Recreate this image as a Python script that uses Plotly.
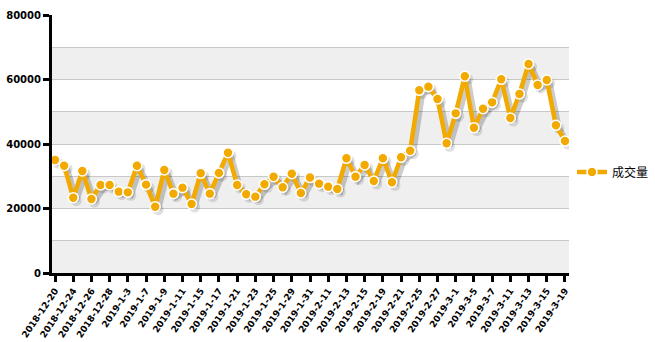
import plotly.graph_objects as go

dates = [
    "2018-12-20", "2018-12-21", "2018-12-24", "2018-12-25", "2018-12-26", "2018-12-27", "2018-12-28",
    "2019-1-2", "2019-1-3", "2019-1-4", "2019-1-7", "2019-1-8", "2019-1-9", "2019-1-10", "2019-1-11",
    "2019-1-14", "2019-1-15", "2019-1-16", "2019-1-17", "2019-1-18", "2019-1-21", "2019-1-22", "2019-1-23",
    "2019-1-24", "2019-1-25", "2019-1-28", "2019-1-29", "2019-1-30", "2019-1-31", "2019-2-1",
    "2019-2-11", "2019-2-12", "2019-2-13", "2019-2-14", "2019-2-15", "2019-2-18", "2019-2-19",
    "2019-2-20", "2019-2-21", "2019-2-22", "2019-2-25", "2019-2-26", "2019-2-27", "2019-2-28",
    "2019-3-1", "2019-3-4", "2019-3-5", "2019-3-6", "2019-3-7", "2019-3-8", "2019-3-11", "2019-3-12",
    "2019-3-13", "2019-3-14", "2019-3-15", "2019-3-18", "2019-3-19",
]
volume = [
    35040, 33270, 23350, 31630, 22950, 27290, 27290, 25220, 25010, 33270,
    27400, 20560, 31940, 24600, 26460, 21400, 30910, 24600, 31010, 37310,
    27290, 24400, 23670, 27500, 29860, 26570, 30790, 24800, 29600, 27700,
    26770, 26050, 35560, 29870, 33490, 28530, 35560, 28120, 35870, 37930,
    56650, 57780, 53950, 40210, 49510, 60990, 45060, 50950, 52920, 60060,
    48060, 55500, 64810, 58300, 59840, 45800, 40930,
]
series_name = "成交量"
y_ticks = [0, 20000, 40000, 60000, 80000]
y_tick_text = ["0", "20000", "40000", "60000", "80000"]
tick_dates = dates[::2]

ORANGE = "#F2A900"
Y_MAX = 80000
BAND = 10000

# layout geometry
W, H = 655, 342
ML, MR, MT, MB = 52, 86, 15, 69
plot_w = W - ML - MR
plot_h = H - MT - MB
x_range = [-0.33, len(dates) - 1 + 0.44]
px_per_cat = plot_w / (x_range[1] - x_range[0])
px_per_val = plot_h / Y_MAX
shadow_px = 3

fig = go.Figure()

# shadow trace on offset overlay axes (x2/y2)
fig.add_trace(go.Scatter(
    x=dates, y=volume, mode="lines+markers", xaxis="x2", yaxis="y2",
    line=dict(color="rgba(0,0,0,0.2)", width=6),
    marker=dict(size=11, color="rgba(0,0,0,0.12)", line=dict(width=0)),
    showlegend=False, hoverinfo="skip",
))

# main trace on unshifted overlay axes (x3/y3), drawn above the shadow
fig.add_trace(go.Scatter(
    x=dates, y=volume, mode="lines+markers", name=series_name, xaxis="x3", yaxis="y3",
    line=dict(color=ORANGE, width=4.5),
    marker=dict(size=10, color=ORANGE, line=dict(color="white", width=1.6)),
))

# alternating bands
shapes = []
for lo in range(0, Y_MAX, 2 * BAND):
    shapes.append(dict(type="rect", xref="paper", yref="y", x0=0, x1=1, y0=lo, y1=lo + BAND,
                       fillcolor="#EFEFEF", line=dict(width=0), layer="below"))

cat_axis = dict(type="category", categoryorder="array", categoryarray=dates)

fig.update_layout(
    width=W, height=H,
    margin=dict(l=ML, r=MR, t=MT, b=MB, autoexpand=False),
    paper_bgcolor="white", plot_bgcolor="white",
    shapes=shapes,
    xaxis=dict(
        **cat_axis, range=x_range,
        tickvals=tick_dates, ticktext=tick_dates, tickangle=-56,
        tickfont=dict(family="DejaVu Sans", size=9, color="black", weight="bold"),
        showgrid=False, showline=True, linecolor="black", linewidth=3,
        ticks="outside", ticklen=6, tickwidth=2.5, tickcolor="black",
        zeroline=False, automargin=False,
    ),
    yaxis=dict(
        range=[0, Y_MAX], tickvals=y_ticks, ticktext=y_tick_text,
        tickfont=dict(family="DejaVu Sans", size=10, color="black", weight="bold"),
        showgrid=True, gridcolor="#C8C8C8", gridwidth=1,
        minor=dict(dtick=BAND, showgrid=True, gridcolor="#C8C8C8", gridwidth=1, ticks=""),
        showline=True, linecolor="black", linewidth=3,
        ticks="outside", ticklen=6, tickwidth=2.5, tickcolor="black",
        zeroline=False, automargin=False,
    ),
    xaxis2=dict(
        **cat_axis, overlaying="x",
        range=[x_range[0] - shadow_px / px_per_cat, x_range[1] - shadow_px / px_per_cat],
        visible=False,
    ),
    yaxis2=dict(
        overlaying="y", range=[shadow_px / px_per_val, Y_MAX + shadow_px / px_per_val],
        visible=False,
    ),
    xaxis3=dict(**cat_axis, overlaying="x", range=x_range, visible=False),
    yaxis3=dict(overlaying="y", range=[0, Y_MAX], visible=False),
    legend=dict(
        xref="container", yref="container", x=572 / W, y=1 - 172 / H,
        xanchor="left", yanchor="middle",
        font=dict(family="Noto Sans CJK SC", size=12, color="black"),
        bgcolor="rgba(0,0,0,0)",
    ),
    showlegend=True,
)

fig.write_html("out.html")
